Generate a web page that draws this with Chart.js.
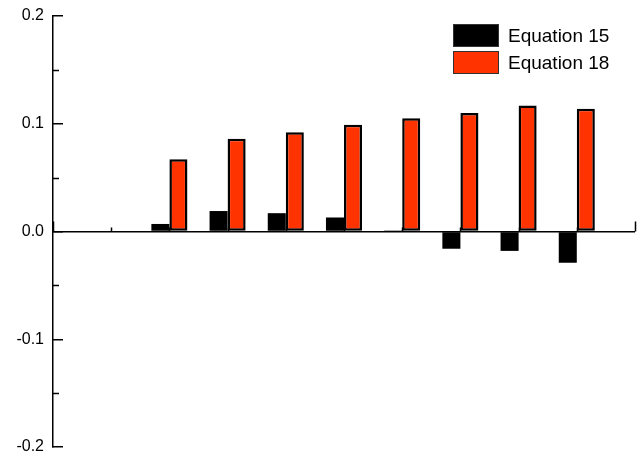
<!DOCTYPE html>
<html>
<head>
<meta charset="utf-8">
<script src="https://cdn.jsdelivr.net/npm/chart.js@4/dist/chart.umd.min.js"></script>
<style>
  html, body { margin: 0; padding: 0; background: #fff; }
  #wrap { position: relative; width: 644px; height: 456px; }
  #legend { position: absolute; left: 453px; top: 22px; font: 19px "Liberation Sans", Arial, sans-serif; color: #000; }
  .item { display: flex; align-items: center; height: 27px; }
  .box { width: 44px; height: 21px; border: 1.5px solid #333; margin-right: 9px; }
</style>
</head>
<body>
<div id="wrap">
  <canvas id="chart"></canvas>
  <div id="legend"></div>
</div>
<script>
// group positions along the (unlabelled) x axis, axis runs 0..10
const xPositions = [2, 3, 4, 5, 6, 7, 8, 9];
const xMin = 0;
const xMax = 10;

const eq15 = [0.007, 0.019, 0.017, 0.013, 0.001, -0.016, -0.018, -0.029];
const eq18 = [0.067, 0.086, 0.092, 0.099, 0.105, 0.110, 0.117, 0.114];

const seriesNames = ['Equation 15', 'Equation 18'];
const seriesColors = ['#000000', '#ff3300'];
const seriesBorders = [0, 2.5];

const yMin = -0.2;
const yMax = 0.2;
const yStep = 0.05;   // every other tick is labelled

Chart.defaults.font.family = '"Liberation Sans", Arial, sans-serif';
Chart.defaults.color = '#000';

const isMajor = v => Math.abs(Math.round(v * 10) - v * 10) < 1e-6;

const toPoints = vals => vals.map((v, i) => ({ x: xPositions[i], y: v }));

const datasets = [eq15, eq18].map((vals, i) => ({
    label: seriesNames[i],
    data: toPoints(vals),
    backgroundColor: seriesColors[i],
    borderColor: '#000',
    borderWidth: seriesBorders[i],
    borderSkipped: false,
    barPercentage: 1,
    categoryPercentage: 0.62
}));

// short ticks: minor y ticks and the x ticks along the zero line
const extraTicks = {
    id: 'extraTicks',
    beforeDatasetsDraw(chart) {
        const { ctx, scales: { x, y } } = chart;
        const y0 = y.getPixelForValue(0);
        ctx.save();
        ctx.strokeStyle = '#000';
        ctx.lineWidth = 1.5;
        ctx.beginPath();
        for (let v = xMin; v <= xMax; v++) {
            const px = Math.round(x.getPixelForValue(v)) + 0.5;
            const len = v % 5 === 0 ? 10 : 4;
            ctx.moveTo(px, y0);
            ctx.lineTo(px, y0 - len);
        }
        y.ticks.forEach(t => {
            if (isMajor(t.value)) return;
            const py = Math.round(y.getPixelForValue(t.value)) + 0.5;
            ctx.moveTo(x.left, py);
            ctx.lineTo(x.left + 6, py);
        });
        ctx.stroke();
        ctx.restore();
    }
};

new Chart(document.getElementById('chart'), {
    type: 'bar',
    data: { datasets: datasets },
    plugins: [extraTicks],
    options: {
        responsive: true,
        maintainAspectRatio: false,
        animation: false,
        layout: { padding: { left: 0, top: 16, right: 9, bottom: 9 } },
        plugins: { legend: { display: false }, tooltip: { enabled: false } },
        scales: {
            x: {
                type: 'linear',
                min: xMin, max: xMax,
                offset: false,
                display: false
            },
            y: {
                min: yMin, max: yMax,
                position: 'left',
                border: { display: true, color: '#000', width: 1.5 },
                grid: {
                    drawOnChartArea: true,
                    color: c => (c.tick && Math.abs(c.tick.value) < 1e-9) ? '#000' : 'rgba(0,0,0,0)',
                    lineWidth: 1.5,
                    drawTicks: true,
                    tickLength: -10,
                    tickColor: c => (c.tick && isMajor(c.tick.value)) ? '#000' : 'rgba(0,0,0,0)',
                    tickWidth: 1.5
                },
                ticks: {
                    stepSize: yStep,
                    autoSkip: false,
                    padding: 19,
                    font: { size: 16 },
                    callback: v => isMajor(v) ? v.toFixed(1) : ''
                },
                afterFit: s => {
                    s.width = 53;
                    s.paddingTop = 0;
                    s.paddingBottom = 0;
                }
            }
        }
    }
});

// legend built from the series
const legend = document.getElementById('legend');
seriesNames.forEach((name, i) => {
    const row = document.createElement('div');
    row.className = 'item';
    const box = document.createElement('span');
    box.className = 'box';
    box.style.background = seriesColors[i];
    const txt = document.createElement('span');
    txt.textContent = name;
    row.appendChild(box);
    row.appendChild(txt);
    legend.appendChild(row);
});
</script>
</body>
</html>
